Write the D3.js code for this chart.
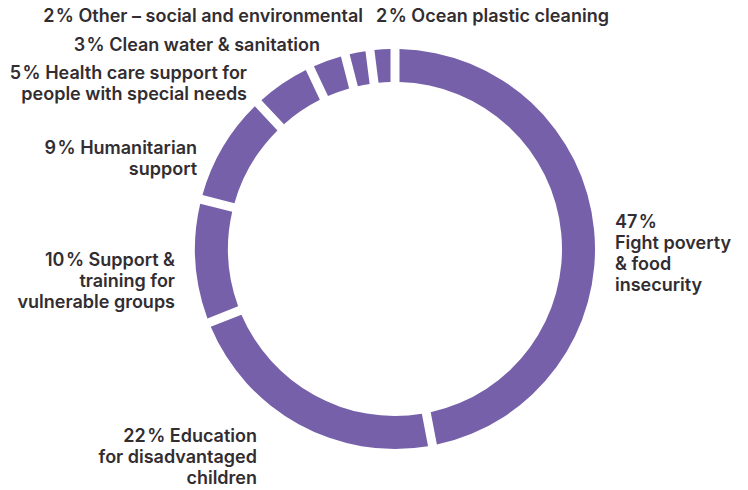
<!DOCTYPE html>
<html>
<head>
<meta charset="utf-8">
<script src="https://cdn.jsdelivr.net/npm/d3@7"></script>
<style>
  body { margin: 0; background: #fff; }
  text { font-family: Inter, "Open Sans", sans-serif; font-weight: 600; fill: #322d31; }
</style>
</head>
<body>
<div id="chart"></div>
<script>
// shares, clockwise from 12 o'clock
const categories = [
  "Fight poverty & food insecurity",
  "Education for disadvantaged children",
  "Support & training for vulnerable groups",
  "Humanitarian support",
  "Health care support for people with special needs",
  "Clean water & sanitation",
  "Other – social and environmental",
  "Ocean plastic cleaning"
];
const shares = [47, 22, 10, 9, 5, 3, 2, 2];
const labelLines = [
  ["47\u200A%", "Fight poverty", "& food", "insecurity"],
  ["22\u200A% Education", "for disadvantaged", "children"],
  ["10\u200A% Support &", "training for", "vulnerable groups"],
  ["9\u200A% Humanitarian", "support"],
  ["5\u200A% Health care support for", "people with special needs"],
  ["3\u200A% Clean water & sanitation"],
  ["2\u200A% Other – social and environmental"],
  ["2\u200A% Ocean plastic cleaning"]
];

// label layout (first baseline, anchor)
const labelLayout = [
  { x: 615, y: 228, anchor: "start" },
  { x: 257, y: 442, anchor: "end" },
  { x: 175, y: 266, anchor: "end" },
  { x: 197, y: 154, anchor: "end" },
  { x: 247, y: 79, anchor: "end" },
  { x: 320, y: 51, anchor: "end" },
  { x: 363, y: 22, anchor: "end" },
  { x: 376, y: 22, anchor: "start" }
];

const width = 748, height = 490;
const cx = 395, cy = 249;
const outerR = 200, innerR = 167;
const lineH = 21;

const svg = d3.select("#chart").append("svg")
  .attr("width", width)
  .attr("height", height);

// exact proportions; the gap is cut out of the arcs, centred on each boundary
const pie = d3.pie().sort(null).value(d => d)
  .startAngle(0).endAngle(2 * Math.PI);

const arc = d3.arc()
  .innerRadius(innerR)
  .outerRadius(outerR)
  .padAngle(9 / outerR)
  .padRadius(outerR);

const g = svg.append("g").attr("transform", `translate(${cx},${cy})`);

g.selectAll("path")
  .data(pie(shares))
  .enter().append("path")
  .attr("d", arc)
  .attr("fill", "#7560a9");

const labels = svg.selectAll("text.lbl")
  .data(labelLines)
  .enter().append("text")
  .attr("class", "lbl")
  .attr("font-size", 18)
  .attr("text-anchor", (d, i) => labelLayout[i].anchor)
  .attr("transform", (d, i) => `translate(${labelLayout[i].x},${labelLayout[i].y})`);

labels.each(function (lines) {
  d3.select(this).selectAll("tspan")
    .data(lines)
    .enter().append("tspan")
    .attr("x", 0)
    .attr("y", (d, j) => j * lineH)
    .text(d => d);
});
</script>
</body>
</html>
